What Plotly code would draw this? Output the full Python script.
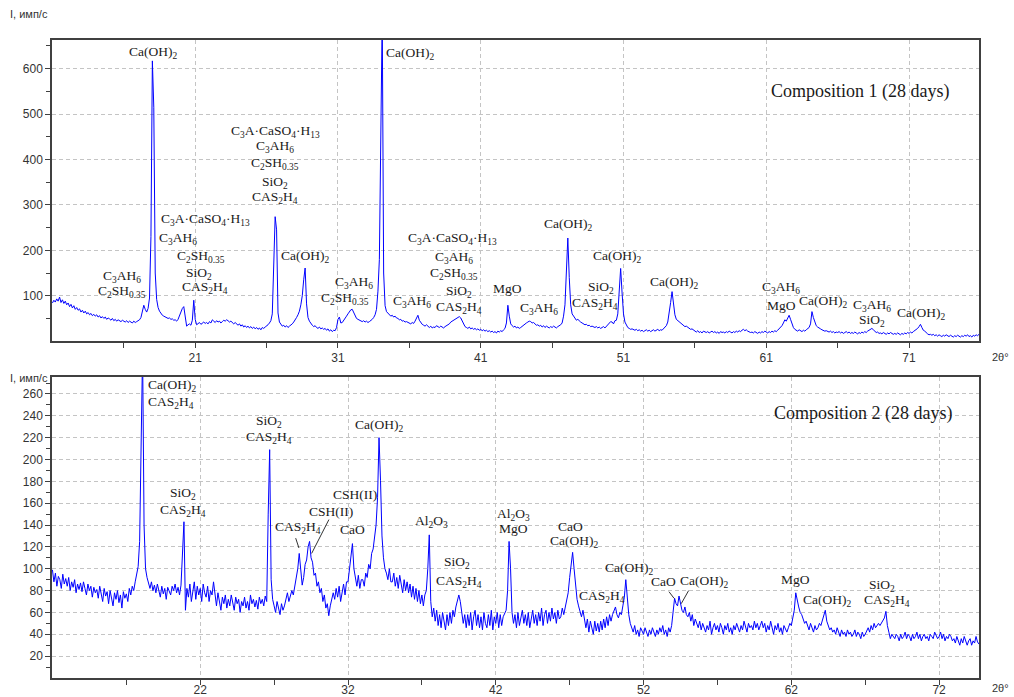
import numpy as np
import plotly.graph_objects as go

# ---------------- data ----------------
# scan step (degrees 2theta) and start angles of both patterns
scan_step = 0.1
start_1 = 11.0
start_2 = 12.0

# Composition 1 (28 days) intensity, one row per degree (11.0 ... 76.0)
intensity_1 = [
    84, 90, 86, 93, 88, 97, 85, 91, 83, 88,
    80, 84, 76, 81, 73, 78, 70, 74, 68, 71,
    64, 68, 62, 66, 60, 63, 58, 61, 56, 59,
    55, 58, 53, 56, 51, 54, 50, 53, 48, 51,
    49, 46, 50, 45, 48, 44, 47, 45, 43, 46,
    44, 42, 45, 41, 44, 42, 40, 44, 41, 43,
    45, 47, 52, 66, 79, 70, 64, 72, 95, 230,
    617, 515, 150, 92, 74, 66, 60, 57, 55, 53,
    52, 50, 51, 48, 49, 46, 47, 44, 48, 55,
    66, 72, 76, 58, 33, 36, 38, 35, 46, 90,
    48, 36, 38, 41, 37, 40, 42, 39, 41, 38,
    43, 40, 47, 44, 41, 45, 42, 44, 40, 43,
    46, 44, 47, 45, 42, 44, 40, 38, 41, 37,
    35, 38, 33, 36, 31, 34, 30, 33, 29, 32,
    28, 31, 27, 30, 26, 29, 25, 30, 28, 31,
    33, 36, 40, 45, 60, 195, 274, 245, 62, 42,
    36, 33, 35, 31, 34, 30, 33, 35, 38, 42,
    46, 52, 58, 66, 80, 100, 135, 161, 82, 52,
    44, 38, 35, 32, 34, 30, 28, 31, 27, 29,
    26, 28, 24, 27, 22, 25, 21, 24, 23, 30,
    48, 53, 40, 41, 45, 50, 55, 60, 65, 69,
    70, 63, 54, 50, 48, 46, 44, 43, 45, 42,
    44, 41, 43, 45, 48, 52, 58, 70, 110, 180,
    505, 720, 150, 78, 65, 61, 58, 55, 57, 53,
    55, 51, 50, 47, 48, 44, 45, 42, 43, 41,
    40, 38, 41, 39, 44, 50, 57, 46, 40, 37,
    35, 33, 36, 32, 30, 33, 29, 31, 30, 34,
    32, 30, 33, 31, 29, 32, 34, 36, 38, 42,
    44, 46, 48, 50, 52, 54, 51, 45, 36, 32,
    30, 28, 31, 27, 29, 26, 28, 25, 27, 24,
    26, 23, 25, 22, 24, 21, 23, 20, 22, 19,
    21, 18, 22, 20, 23, 21, 25, 28, 40, 79,
    55, 38, 34, 31, 33, 29, 31, 28, 30, 33,
    35, 38, 40, 42, 44, 43, 40, 41, 38, 35,
    36, 33, 35, 31, 34, 30, 33, 31, 29, 32,
    30, 33, 31, 29, 32, 34, 36, 40, 55, 80,
    150, 227, 140, 80, 60, 55, 50, 46, 48, 44,
    42, 40, 38, 36, 37, 34, 35, 32, 33, 31,
    30, 32, 29, 31, 28, 30, 32, 29, 33, 36,
    40, 43, 42, 38, 45, 46, 60, 110, 160, 106,
    60, 42, 35, 30, 28, 26, 27, 25, 24, 26,
    23, 25, 22, 24, 21, 23, 25, 22, 24, 21,
    23, 25, 22, 24, 26, 23, 25, 24, 27, 30,
    34, 42, 60, 85, 109, 75, 58, 48, 45, 42,
    40, 36, 35, 32, 33, 30, 28, 26, 27, 24,
    22, 20, 23, 19, 21, 18, 22, 20, 19, 21,
    18, 20, 22, 19, 21, 18, 20, 17, 21, 19,
    20, 18, 21, 19, 22, 20, 18, 21, 19, 22,
    20, 23, 21, 24, 26, 23, 25, 22, 21, 19,
    20, 18, 21, 19, 17, 20, 18, 21, 19, 22,
    20, 18, 21, 19, 22, 20, 23, 21, 24, 27,
    30, 34, 40, 47, 44, 52, 57, 48, 38, 30,
    26, 24, 22, 25, 23, 21, 24, 22, 25, 28,
    30, 38, 65, 52, 40, 34, 31, 28, 27, 25,
    24, 22, 23, 21, 20, 22, 19, 21, 18, 20,
    19, 21, 18, 20, 17, 19, 21, 18, 20, 17,
    19, 17, 20, 18, 16, 19, 17, 20, 18, 21,
    19, 22, 24, 27, 28, 25, 21, 19, 20, 17,
    18, 16, 19, 17, 15, 18, 16, 19, 17, 15,
    17, 15, 18, 16, 14, 17, 15, 18, 16, 19,
    17, 20, 18, 21, 23, 26, 28, 32, 37, 30,
    24, 22, 18, 16, 14, 15, 13, 15, 12, 14,
    11, 14, 12, 10, 13, 11, 14, 12, 10, 13,
    11, 9, 12, 10, 13, 11, 9, 12, 10, 13,
    11, 14, 10, 12, 9, 13, 11, 14, 12, 15,
    13,
]

# Composition 2 (28 days) intensity, one row per degree (12.0 ... 74.7)
intensity_2 = [
    99, 88, 96, 84, 93, 90, 82, 95, 86, 91,
    84, 92, 80, 88, 83, 90, 78, 86, 81, 87,
    79, 88, 82, 76, 86, 80, 84, 74, 83, 78,
    81, 73, 84, 77, 70, 82, 75, 79, 68, 80,
    74, 66, 78, 72, 80, 69, 76, 64, 79, 73,
    77, 70, 82, 76, 84, 80, 88, 95, 102, 125,
    222, 300, 140, 100, 92, 86, 82, 88, 80, 85,
    78, 86, 80, 74, 84, 77, 82, 72, 83, 79,
    76, 84, 80, 86, 78, 83, 76, 85, 120, 143,
    62, 82, 74, 86, 70, 80, 88, 72, 84, 76,
    82, 70, 86, 78, 74, 84, 70, 80, 76, 88,
    74, 66, 78, 70, 62, 74, 68, 76, 64, 72,
    66, 76, 70, 62, 74, 68, 72, 60, 70, 66,
    74, 64, 70, 62, 76, 68, 72, 65, 71, 63,
    74, 68, 72, 66, 75, 70, 150, 209, 90, 72,
    66, 60, 70, 64, 58, 68, 62, 66, 72, 78,
    70, 74, 80, 76, 84, 88, 100, 114, 96, 85,
    92, 104, 108, 120, 125, 110, 106, 94, 96, 84,
    88, 78, 82, 70, 76, 64, 68, 57, 66, 74,
    78, 72, 82, 74, 84, 70, 80, 86, 76, 88,
    88, 100, 112, 123, 100, 90, 84, 94, 82, 90,
    90, 84, 96, 92, 104, 100, 114, 118, 130, 140,
    165, 220, 181, 130, 110, 100, 96, 90, 100, 88,
    88, 96, 84, 92, 82, 94, 86, 78, 90, 80,
    88, 78, 86, 74, 84, 72, 82, 70, 80, 68,
    76, 66, 76, 80, 100, 131, 70, 56, 64, 52,
    62, 48, 58, 46, 60, 50, 44, 58, 48, 60,
    50, 62, 56, 65, 72, 76, 70, 58, 50, 58,
    46, 58, 48, 60, 44, 56, 62, 48, 58, 46,
    56, 44, 60, 50, 46, 58, 48, 62, 44, 56,
    50, 60, 46, 58, 48, 56, 60, 62, 80, 125,
    100, 60, 50, 58, 46, 60, 48, 56, 62, 50,
    58, 48, 60, 46, 56, 62, 50, 58, 48, 60,
    52, 64, 48, 58, 62, 50, 60, 52, 64, 54,
    60, 50, 62, 54, 56, 64, 58, 64, 70, 78,
    92, 105, 115, 100, 85, 72, 66, 60, 56, 62,
    54, 46, 54, 42, 52, 44, 40, 52, 43, 50,
    42, 52, 44, 54, 46, 56, 48, 58, 52, 58,
    62, 65, 58, 55, 60, 58, 66, 74, 90, 72,
    58, 50, 46, 42, 48, 40, 44, 38, 46, 42,
    40, 46, 42, 38, 44, 40, 46, 42, 38, 44,
    40, 46, 42, 48, 40, 44, 38, 46, 42, 48,
    60, 73, 68, 66, 75, 68, 62, 60, 65, 58,
    56, 60, 52, 58, 48, 54, 50, 46, 52, 44,
    50, 46, 42, 48, 44, 52, 40, 46, 50, 44,
    48, 42, 50, 46, 40, 48, 44, 50, 42, 46,
    40, 48, 44, 50, 46, 42, 48, 44, 52, 46,
    42, 50, 46, 48, 44, 52, 46, 50, 44, 48,
    52, 46, 50, 42, 48, 44, 52, 46, 40, 48,
    44, 50, 42, 46, 40, 48, 44, 42, 46, 50,
    48, 56, 62, 78, 70, 65, 60, 58, 54, 50,
    52, 48, 44, 50, 46, 42, 48, 44, 46, 50,
    48, 52, 56, 62, 52, 48, 44, 46, 42, 44,
    40, 46, 42, 38, 44, 40, 42, 38, 44, 40,
    42, 38, 40, 44, 38, 42, 40, 36, 42, 38,
    40, 44, 46, 42, 48, 44, 50, 46, 48, 50,
    48, 50, 52, 55, 61, 48, 42, 36, 40, 38,
    36, 40, 38, 34, 40, 36, 38, 42, 36, 40,
    38, 34, 40, 36, 38, 42, 36, 40, 34, 38,
    40, 36, 38, 34, 40, 38, 36, 42, 38, 36,
    38, 42, 36, 40, 34, 38, 36, 40, 38, 34,
    36, 32, 38, 34, 30, 36, 32, 38, 34, 30,
    34, 36, 30, 34, 32, 38, 33, 31,
]

# tick labels
x_ticks_1 = [21, 31, 41, 51, 61, 71]
x_ticks_2 = [22, 32, 42, 52, 62, 72]
y_ticks_1 = [100, 200, 300, 400, 500, 600]
y_ticks_2 = [20, 40, 60, 80, 100, 120, 140, 160, 180, 200, 220, 240, 260]

# phase labels: (text, 2theta, intensity)
labels_1 = [
    ("Ca(OH)<sub>2</sub>", 18.1, 636),
    ("C<sub>3</sub>AH<sub>6</sub>", 15.9, 143),
    ("C<sub>2</sub>SH<sub>0.35</sub>", 15.9, 110),
    ("C<sub>3</sub>A·CaSO<sub>4</sub>·H<sub>13</sub>", 21.7, 267),
    ("C<sub>3</sub>AH<sub>6</sub>", 19.8, 227),
    ("C<sub>2</sub>SH<sub>0.35</sub>", 21.4, 186),
    ("SiO<sub>2</sub>", 21.3, 148),
    ("CAS<sub>2</sub>H<sub>4</sub>", 21.7, 117),
    ("C<sub>3</sub>A·CaSO<sub>4</sub>·H<sub>13</sub>", 26.6, 462),
    ("C<sub>3</sub>AH<sub>6</sub>", 26.6, 428),
    ("C<sub>2</sub>SH<sub>0.35</sub>", 26.6, 391),
    ("SiO<sub>2</sub>", 26.6, 350),
    ("CAS<sub>2</sub>H<sub>4</sub>", 26.6, 316),
    ("Ca(OH)<sub>2</sub>", 28.7, 186),
    ("C<sub>3</sub>AH<sub>6</sub>", 32.15, 130),
    ("C<sub>2</sub>SH<sub>0.35</sub>", 31.5, 94),
    ("Ca(OH)<sub>2</sub>", 36.1, 633),
    ("C<sub>3</sub>AH<sub>6</sub>", 36.2, 87),
    ("C<sub>3</sub>A·CaSO<sub>4</sub>·H<sub>13</sub>", 39.0, 227),
    ("C<sub>3</sub>AH<sub>6</sub>", 39.1, 184),
    ("C<sub>2</sub>SH<sub>0.35</sub>", 39.1, 149),
    ("SiO<sub>2</sub>", 39.45, 110),
    ("CAS<sub>2</sub>H<sub>4</sub>", 39.5, 74),
    ("MgO", 42.9, 116),
    ("C<sub>3</sub>AH<sub>6</sub>", 45.1, 72),
    ("Ca(OH)<sub>2</sub>", 47.16, 256),
    ("Ca(OH)<sub>2</sub>", 50.6, 186),
    ("SiO<sub>2</sub>", 49.4, 118),
    ("CAS<sub>2</sub>H<sub>4</sub>", 49.0, 82),
    ("Ca(OH)<sub>2</sub>", 54.6, 130),
    ("C<sub>3</sub>AH<sub>6</sub>", 62.0, 118),
    ("MgO", 62.05, 78),
    ("Ca(OH)<sub>2</sub>", 65.0, 87),
    ("C<sub>3</sub>AH<sub>6</sub>", 68.4, 79),
    ("SiO<sub>2</sub>", 68.4, 45),
    ("Ca(OH)<sub>2</sub>", 71.9, 61),
]
labels_2 = [
    ("Ca(OH)<sub>2</sub>", 20.12, 268),
    ("CAS<sub>2</sub>H<sub>4</sub>", 20.0, 252),
    ("SiO<sub>2</sub>", 20.86, 169),
    ("CAS<sub>2</sub>H<sub>4</sub>", 20.86, 153),
    ("SiO<sub>2</sub>", 26.66, 235),
    ("CAS<sub>2</sub>H<sub>4</sub>", 26.66, 220),
    ("CAS<sub>2</sub>H<sub>4</sub>", 28.63, 138),
    ("CSH(II)", 30.83, 152),
    ("CSH(II)", 32.47, 168),
    ("CaO", 32.3, 136),
    ("Ca(OH)<sub>2</sub>", 34.16, 231),
    ("Al<sub>2</sub>O<sub>3</sub>", 37.64, 143),
    ("SiO<sub>2</sub>", 39.4, 106),
    ("CAS<sub>2</sub>H<sub>4</sub>", 39.5, 88),
    ("Al<sub>2</sub>O<sub>3</sub>", 43.23, 150),
    ("MgO", 43.2, 137),
    ("CaO", 47.07, 139),
    ("Ca(OH)<sub>2</sub>", 47.34, 125),
    ("CAS<sub>2</sub>H<sub>4</sub>", 49.2, 75),
    ("Ca(OH)<sub>2</sub>", 51.08, 100),
    ("CaO", 53.36, 88),
    ("Ca(OH)<sub>2</sub>", 56.13, 88),
    ("MgO", 62.3, 90),
    ("Ca(OH)<sub>2</sub>", 64.43, 71),
    ("SiO<sub>2</sub>", 68.15, 85),
    ("CAS<sub>2</sub>H<sub>4</sub>", 68.5, 71),
]
# leader lines in bottom panel: (x0, y0, x1, y1)
leaders_2 = [
    (28.46, 128, 28.68, 119),
    (30.71, 145, 29.54, 114),
    (53.72, 79, 54.06, 73),
    (55.05, 80, 54.55, 68),
]

# ---------------- figure ----------------
x1 = np.round(start_1 + scan_step * np.arange(len(intensity_1)), 2)
x2 = np.round(start_2 + scan_step * np.arange(len(intensity_2)), 2)

BLUE = "#0000ff"
AXC = "#404040"
GRID = "#c4c4c4"
TICKFONT = dict(family="Liberation Sans, Arial, sans-serif", size=12, color="#333333")
SERIF = "Liberation Serif, Times New Roman, serif"

fig = go.Figure()
fig.add_trace(go.Scatter(x=x1, y=intensity_1, mode="lines",
                         line=dict(color=BLUE, width=1), xaxis="x", yaxis="y"))
fig.add_trace(go.Scatter(x=x2, y=intensity_2, mode="lines",
                         line=dict(color=BLUE, width=1), xaxis="x2", yaxis="y2"))

def axis_common():
    return dict(showline=True, linecolor=AXC, linewidth=1.5, mirror=True,
                ticks="outside", ticklen=5, tickcolor=AXC, tickwidth=1,
                showgrid=True, gridcolor=GRID, griddash="4px,3px", gridwidth=1,
                zeroline=False, tickfont=TICKFONT, tickmode="array")

xa1 = axis_common()
xa1.update(domain=[0, 1], anchor="y", range=[10.97, 75.9], tickvals=x_ticks_1,
           minor=dict(tickmode="array", tickvals=[t + 5 for t in x_ticks_1] + [16],
                      ticks="outside", ticklen=5, tickcolor=AXC, showgrid=False))
ya1 = axis_common()
ya1.update(domain=[0.528, 1], anchor="x", range=[0, 663], tickvals=y_ticks_1,
           minor=dict(tickmode="array", tickvals=[t - 50 for t in y_ticks_1] + [650],
                      ticks="outside", ticklen=4, tickcolor=AXC, showgrid=False))
xa2 = axis_common()
xa2.update(domain=[0, 1], anchor="y2", range=[11.97, 74.7], tickvals=x_ticks_2,
           ticklabelstandoff=-5,
           minor=dict(tickmode="array", tickvals=[t - 5 for t in x_ticks_2],
                      ticks="outside", ticklen=5, tickcolor=AXC, showgrid=False))
ya2 = axis_common()
ya2.update(domain=[0, 0.4718], anchor="x2", range=[0, 275.5], tickvals=y_ticks_2,
           minor=dict(tickmode="array", tickvals=[t - 10 for t in y_ticks_2] + [270],
                      ticks="outside", ticklen=4, tickcolor=AXC, showgrid=False))

annotations = []
for txt, xx, yy in labels_1:
    annotations.append(dict(text=txt, x=xx, y=yy, xref="x", yref="y", showarrow=False,
                            xanchor="center", yanchor="middle",
                            font=dict(family=SERIF, size=13.5, color="#1a1a1a")))
for txt, xx, yy in labels_2:
    annotations.append(dict(text=txt, x=xx, y=yy, xref="x2", yref="y2", showarrow=False,
                            xanchor="center", yanchor="middle",
                            font=dict(family=SERIF, size=13.5, color="#1a1a1a")))
annotations.append(dict(text="Composition 1 (28 days)", x=67.6, y=550, xref="x", yref="y",
                        showarrow=False, xanchor="center", yanchor="middle",
                        font=dict(family=SERIF, size=18, color="#1a1a1a")))
annotations.append(dict(text="Composition 2 (28 days)", x=66.85, y=242, xref="x2", yref="y2",
                        showarrow=False, xanchor="center", yanchor="middle",
                        font=dict(family=SERIF, size=18, color="#1a1a1a")))
# axis titles
small = dict(family="Liberation Sans, Arial, sans-serif", size=11, color="#333333")
annotations.append(dict(text="I, имп/с", x=-0.0475, y=1.0408, xref="paper", yref="paper",
                        showarrow=False, xanchor="left", yanchor="middle", font=small))
annotations.append(dict(text="I, имп/с", x=-0.0475, y=0.470, xref="paper", yref="paper",
                        showarrow=False, xanchor="left", yanchor="middle", font=small))
annotations.append(dict(text="2θ°", x=1.0227, y=0.503, xref="paper", yref="paper",
                        showarrow=False, xanchor="center", yanchor="middle", font=small))
annotations.append(dict(text="2θ°", x=1.0227, y=-0.0157, xref="paper", yref="paper",
                        showarrow=False, xanchor="center", yanchor="middle", font=small))

shapes = [dict(type="line", xref="x2", yref="y2", x0=a, y0=b, x1=c, y1=d,
               line=dict(color="#333333", width=1)) for a, b, c, d in leaders_2]

fig.update_layout(
    template="none",
    width=1014, height=697,
    margin=dict(l=52, r=35, t=40, b=19),
    paper_bgcolor="white", plot_bgcolor="white",
    showlegend=False,
    xaxis=xa1, yaxis=ya1, xaxis2=xa2, yaxis2=ya2,
    annotations=annotations, shapes=shapes,
)

fig.write_html("out.html")
